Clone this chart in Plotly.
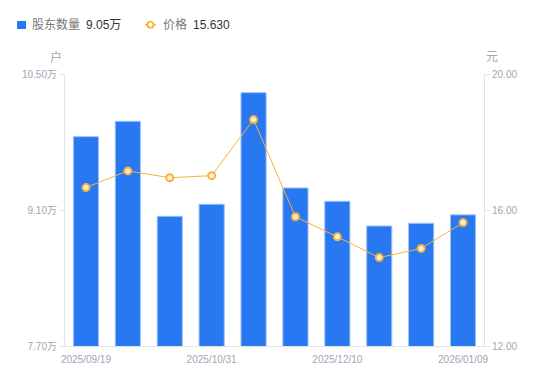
import plotly.graph_objects as go

dates = ["2025/09/19", "2025/09/30", "2025/10/20", "2025/10/31", "2025/11/10",
         "2025/11/20", "2025/12/10", "2025/12/19", "2025/12/31", "2026/01/09"]
holders = [98550, 100130, 90350, 91590, 103080, 93270, 91900, 89350, 89630, 90500]
prices = [16.66, 17.15, 16.95, 17.01, 18.66, 15.80, 15.21, 14.60, 14.87, 15.63]

left_ticks = [77000, 91000, 105000]
left_ticktext = ["7.70万", "9.10万", "10.50万"]
right_ticks = [12, 16, 20]
x_ticks = [dates[0], dates[3], dates[6], dates[9]]

legend_names = ["股东数量", "价格"]
legend_values = ["9.05万", "15.630"]

FONT = "Liberation Sans, Arial, Noto Sans CJK SC, sans-serif"
GRAY = "#a3a3b3"
AXIS = "#e3e3e8"
BLUE = "#2878f2"
ORANGE = "#f7b23b"

# page -> paper helpers (page has an 8px body margin)
PL, PR, PT, PB = 65, 484, 74, 346


def px(X):
    return (X - PL) / (PR - PL)


def py(Y):
    return (PB - Y) / (PB - PT)


fig = go.Figure()
fig.add_trace(go.Bar(
    x=dates, y=holders, width=0.6,
    marker=dict(color=BLUE, line=dict(color="#9cc2fa", width=1)),
    name=legend_names[0], yaxis="y",
))
fig.add_trace(go.Scatter(
    x=dates, y=prices, mode="lines+markers",
    line=dict(color=ORANGE, width=1),
    marker=dict(symbol="circle", size=7, color="#fff3dc", line=dict(color=ORANGE, width=2)),
    name=legend_names[1], yaxis="y2",
))

shapes = [
    dict(type="rect", xref="paper", yref="paper", x0=px(17), x1=px(26), y0=py(29), y1=py(21),
         fillcolor=BLUE, line=dict(width=0)),
    dict(type="line", xref="paper", yref="paper", x0=px(145), x1=px(156), y0=py(24.7), y1=py(24.7),
         line=dict(color=ORANGE, width=1.5)),
    dict(type="circle", xref="paper", yref="paper", x0=px(147.5), x1=px(153.5), y0=py(27.7), y1=py(21.7),
         fillcolor="white", line=dict(color=ORANGE, width=1.8)),
]

def txt(s, X, color, size=12):
    return dict(text=s, xref="paper", yref="paper", x=px(X), y=py(24.7),
                xanchor="left", yanchor="middle", showarrow=False,
                font=dict(size=size, color=color))

annotations = [
    txt(legend_names[0], 30, "#777"),
    txt(legend_values[0], 84, "#333"),
    txt(legend_names[1], 160.5, "#777"),
    txt(legend_values[1], 190.5, "#333"),
    dict(text="户", xref="paper", yref="paper", x=px(64), y=py(57),
         xanchor="right", yanchor="middle", showarrow=False,
         font=dict(size=12, color=GRAY)),
    dict(text="元", xref="paper", yref="paper", x=px(484), y=py(57),
         xanchor="left", yanchor="middle", showarrow=False,
         font=dict(size=12, color=GRAY)),
]

fig.update_layout(
    width=550, height=381,
    margin=dict(l=PL - 8, r=550 - (PR - 8), t=PT - 8, b=381 - (PB - 8)),
    paper_bgcolor="white", plot_bgcolor="white",
    font=dict(family=FONT, size=10, color=GRAY),
    showlegend=False,
    bargap=0.4,
    xaxis=dict(type="category", range=[-0.5, 9.5], tickmode="array", tickvals=x_ticks,
               showline=True, linecolor=AXIS, linewidth=1, ticks="outside", ticklen=4,
               tickcolor="rgba(0,0,0,0)", showgrid=False,
               tickfont=dict(size=10, color=GRAY), zeroline=False),
    yaxis=dict(range=[77000, 105000], tickmode="array", tickvals=left_ticks,
               ticktext=left_ticktext, showline=True, linecolor=AXIS, linewidth=1,
               ticks="outside", ticklen=5, tickcolor=AXIS, showgrid=False, zeroline=False,
               tickfont=dict(size=10, color=GRAY)),
    yaxis2=dict(range=[12, 20], tickmode="array", tickvals=right_ticks, tickformat=".2f",
                overlaying="y", side="right", showline=True, linecolor=AXIS, linewidth=1,
                ticks="outside", ticklen=5, tickcolor=AXIS, showgrid=False, zeroline=False,
                tickfont=dict(size=10, color=GRAY)),
    shapes=shapes,
    annotations=annotations,
)

fig.write_html("out.html")
